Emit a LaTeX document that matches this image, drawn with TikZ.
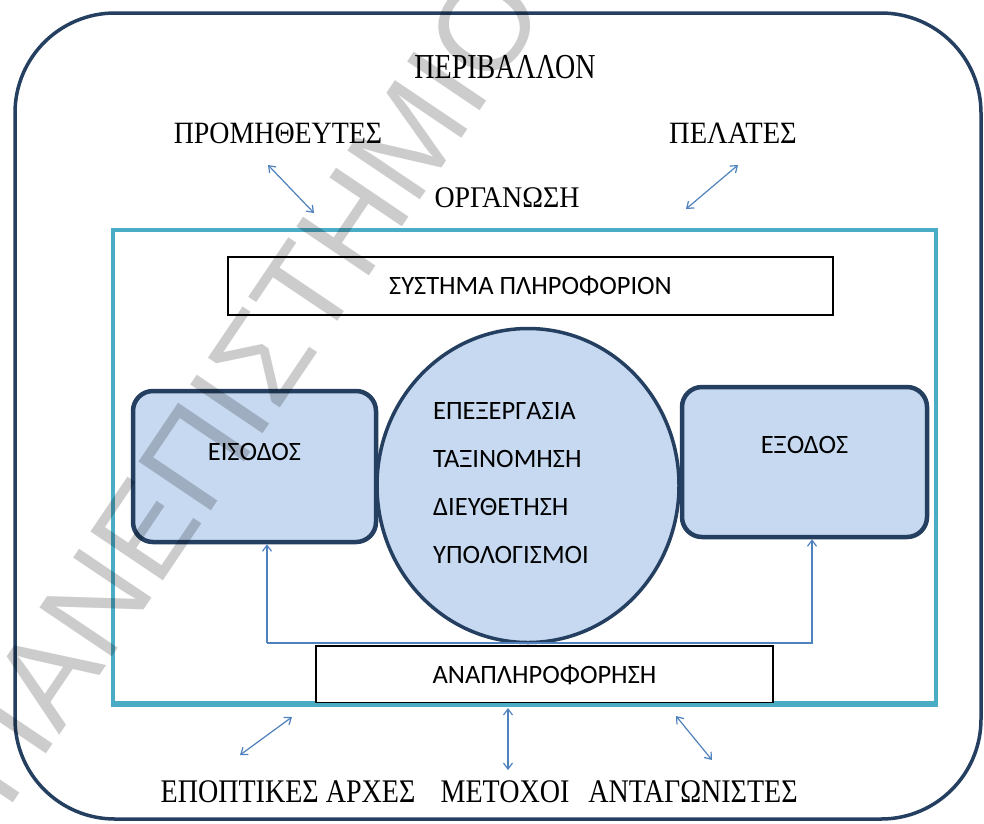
\documentclass[tikz,border=0pt]{standalone}
\usepackage{fontspec}
\setmainfont{Liberation Serif}
\newfontfamily\calib{Carlito}
\newfontfamily\wmark{Liberation Sans}
\usetikzlibrary{arrows.meta,shapes.geometric}

\definecolor{navy}{HTML}{243F60}
\definecolor{tealline}{HTML}{4BACC6}
\definecolor{boxfill}{HTML}{C6D9F1}
\definecolor{arrowblue}{HTML}{4F81BD}

% horizontally condensed serif caption
\newcommand{\narrowtxt}[2]{\scalebox{#1}[1]{#2}}

\tikzset{
  serif/.style={inner sep=0pt, font=\fontsize{#1}{#1}\selectfont},
  sans/.style={inner sep=0pt, font=\calib\fontsize{#1}{#1}\selectfont},
  plainbox/.style={draw=black, line width=1.3pt, fill=white, inner sep=0pt},
  roundbox/.style={draw=navy, line width=4.5pt, fill=boxfill, rounded corners=20pt, inner sep=0pt},
  link/.style={draw=arrowblue, line width=1.2pt,
    {Straight Barb[length=6pt,width=9pt]}-{Straight Barb[length=6pt,width=9pt]}},
  feed/.style={draw=arrowblue, line width=1.2pt, -{Straight Barb[length=6pt,width=9pt]}},
}

\begin{document}
\begin{tikzpicture}[x=1pt,y=-1pt]
  \useasboundingbox (0,0) rectangle (984,823);
  \fill[white] (0,0) rectangle (984,823);

  % environment frame
  \draw[navy, line width=3.5pt, rounded corners=100pt] (15,13) rectangle (981,819);

  % environment labels
  \node[serif=35] (env) at (505,67) {\narrowtxt{0.8}{ΠΕΡΙΒΑΛΛΟΝ}};
  \node[serif=31] (supp) at (278,133) {\narrowtxt{0.9}{ΠΡΟΜΗΘΕΥΤΕΣ}};
  \node[serif=31] (cust) at (733,133) {\narrowtxt{0.92}{ΠΕΛΑΤΕΣ}};
  \node[serif=30] (org) at (507,198) {\narrowtxt{0.93}{ΟΡΓΑΝΩΣΗ}};

  % organisation boundary
  \node[draw=tealline, line width=4pt, minimum width=823pt, minimum height=473pt, inner sep=0pt]
    (orgbox) at (524.5,466.5) {};

  % information system
  \node[plainbox, minimum width=605pt, minimum height=58pt] (sys) at (530.5,286)
    {\calib\fontsize{26.5}{26.5}\selectfont ΣΥΣΤΗΜΑ ΠΛΗΡΟΦΟΡΙΟΝ};

  % processing
  \node[draw=navy, line width=3.5pt, fill=boxfill, ellipse, minimum width=302pt,
    minimum height=314pt, inner sep=0pt] (proc) at (528,485.5) {};
  \node[anchor=west, align=left, inner sep=0pt, font=\calib\fontsize{26.5}{48}\selectfont]
    (proctxt) at (433,483) {ΕΠΕΞΕΡΓΑΣΙΑ\\ΤΑΞΙΝΟΜΗΣΗ\\ΔΙΕΥΘΕΤΗΣΗ\\ΥΠΟΛΟΓΙΣΜΟΙ};

  % input and output
  \node[roundbox, minimum width=243pt, minimum height=151pt,
    label={[sans=26.5, yshift=15pt]center:ΕΙΣΟΔΟΣ}] (inp) at (254.5,466.5) {};
  \node[roundbox, minimum width=245pt, minimum height=150pt,
    label={[sans=26.5, yshift=17pt]center:ΕΞΟΔΟΣ}] (outp) at (804.5,462) {};

  % feedback
  \node[plainbox, minimum width=457pt, minimum height=57pt] (fb) at (544.5,674.5)
    {\calib\fontsize{26.5}{26.5}\selectfont ΑΝΑΠΛΗΡΟΦΟΡΗΣΗ};
  \draw[tealline, line width=4pt] (orgbox.south west) -- (orgbox.south east);

  \coordinate (fbL) at (267,643);
  \coordinate (fbR) at (812,643);
  \draw[feed] (fbL) -- (inp.south -| fbL);
  \draw[feed] (fbL) -- (fbR) -- (outp.south -| fbR);

  % exchanges with the environment
  \coordinate (s1) at (268,165);  \coordinate (s2) at (314,213);
  \coordinate (c1) at (738,165);  \coordinate (c2) at (686,209);
  \draw[link] (s1) -- (s2);
  \draw[link] (c1) -- (c2);

  \node[serif=33] (auth) at (288,792) {\narrowtxt{0.85}{ΕΠΟΠΤΙΚΕΣ ΑΡΧΕΣ}};
  \node[serif=33] (share) at (505,792) {\narrowtxt{0.85}{ΜΕΤΟΧΟΙ}};
  \node[serif=33] (comp) at (693,792) {\narrowtxt{0.85}{ΑΝΤΑΓΩΝΙΣΤΕΣ}};

  \coordinate (a1) at (240,755);  \coordinate (a2) at (292,717);
  \coordinate (m1) at (508,770);  \coordinate (m2) at (508,708);
  \coordinate (k1) at (712,760);  \coordinate (k2) at (676,716);
  \draw[link] (a1) -- (a2);
  \draw[link] (m1) -- (m2);
  \draw[link] (k1) -- (k2);

  % watermark
  \node[rotate=56, inner sep=0pt, text=black, opacity=0.2,
    font=\wmark\fontsize{127}{127}\selectfont] (wm) at (242,386) {ΠΑΝΕΠΙΣΤΗΜΙΟ};
\end{tikzpicture}
\end{document}
